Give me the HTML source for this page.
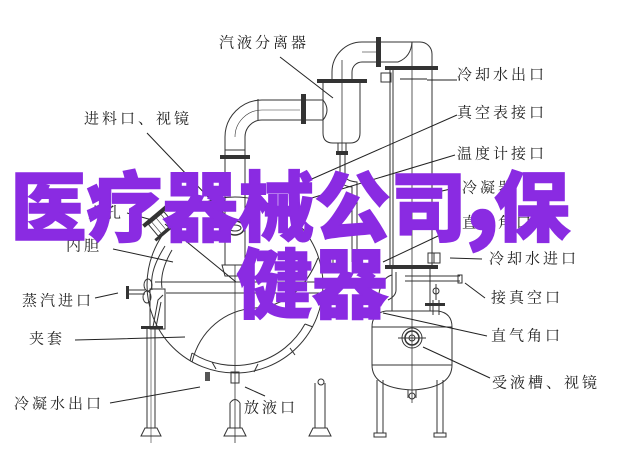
<!DOCTYPE html>
<html><head><meta charset="utf-8"><style>
html,body{margin:0;padding:0;background:#fff;}
body{width:626px;height:470px;overflow:hidden;position:relative;}
svg{position:absolute;left:0;top:0;}
.lb{font-family:"Liberation Serif","Noto Serif CJK SC","Noto Sans CJK SC",serif;font-size:15px;letter-spacing:3px;fill:#222;}
.big{font-family:"Noto Sans CJK SC","WenQuanYi Zen Hei",sans-serif;font-weight:900;font-size:76px;fill:#8a2be2;stroke:#8a2be2;stroke-width:1.5px;}
</style></head><body>
<svg width="626" height="470" viewBox="0 0 626 470" xmlns="http://www.w3.org/2000/svg">
<rect width="626" height="470" fill="#fff"/>
<g fill="none" stroke="#333" stroke-width="1">
<!-- feed pipe elbow -->
<path d="M225,265 V137 A37,37 0 0 1 262,100 H323"/>
<path d="M245,265 V137 A17,17 0 0 1 262,120 H323"/>
<path d="M235,137 A27,27 0 0 1 262,110 H300" stroke-width="0.6"/>
<path d="M258,99 V120 M225,150 H245"/>
<path d="M323,100 Q331,110 323,120"/>
<!-- separator -->
<path d="M323,83 V133 Q323,143 333,143 H350 Q360,143 360,133 V83"/>
<path d="M332,79 V72 A30,30 0 0 1 362,42"/>
<path d="M352,79 V72 A10,10 0 0 1 362,62"/>
<path d="M342,60 V152" stroke-width="0.8"/>
<!-- top pipe -->
<path d="M362,42 H420 A12,12 0 0 1 432,54 V66"/>
<path d="M362,62 H398"/>
<path d="M412,42 Q411,57 398,62"/>
<path d="M362,52 H376" stroke-width="0.6"/>
<!-- column -->
<path d="M390,70 V265 M393,70 V265 M432,66 V265"/>
<path d="M412,42 V403" stroke-width="0.8"/>
<rect x="381" y="73" width="10" height="9"/>
<!-- under separator -->
<path d="M338,143 V152 M346,143 V152"/>
<path d="M340,155 V178 Q340,186 352,187 V262"/>
<path d="M345,155 V176 Q346,181 357,182 V262"/>
<rect x="333" y="256" width="10" height="8"/>
<!-- receiver -->
<path d="M392,269 V311 M430,269 V311"/>
<path d="M372,327 Q372,313 386,311 H438 Q452,313 452,327 V365 Q452,388 412,390 Q372,388 372,365 Z"/>
<path d="M372,327 H452 M372,365 H452"/>
<circle cx="412" cy="338" r="10"/>
<circle cx="412" cy="338" r="7" stroke-width="1.5"/>
<circle cx="412" cy="338" r="3"/>
<path d="M398,338 H426"/>
<path d="M377,380 V433 M383,380 V433 M437,380 V433 M443,380 V433"/>
<rect x="374" y="433" width="12" height="4"/>
<rect x="434" y="433" width="12" height="4"/>
<path d="M408,390 V398 M416,390 V398"/>
<circle cx="412" cy="396" r="3"/>
<!-- receiver right fittings -->
<path d="M405,276 H460 M405,281 H460"/>
<rect x="458" y="275" width="4" height="8"/>
<circle cx="436" cy="291" r="3"/>
<path d="M436,284 V300 M433,300 V315 M439,300 V315"/>
<rect x="428" y="253" width="12" height="10"/>
<path d="M434,253 V263"/>
<path d="M392,275 Q380,278 378,300"/>
<path d="M396,272 V290 Q396,296 388,300"/>
<!-- big vessel -->
<circle cx="235" cy="285" r="88"/>
<path d="M192,353 A80,80 0 0 0 305,324"/>
<path d="M190,361 L192,353 M305,324 L313,327"/>
<path d="M212,362 L216,369 M258,364 L254,372 M290,348 L295,355"/>
<path d="M192,362 C200,330 225,310 255,308 C285,306 305,290 318,258"/>
<path d="M155,282 H322 M166,293 H322"/>
<path d="M129,290 H145 M129,294 H145"/>
<ellipse cx="148" cy="285" rx="4" ry="6"/>
<ellipse cx="147" cy="297" rx="4" ry="6"/>
<rect x="150" y="289" width="15" height="40"/>
<path d="M153,327 L158,300 L163,295 M156,327 L161,302"/>
<path d="M165,246 C155,262 150,275 152,290"/>
<path d="M172,250 C165,262 160,275 162,288"/>
<!-- legs -->
<path d="M147,329 V428 M155,329 V428"/>
<path d="M151,329 V443" stroke-width="0.6"/>
<path d="M141,436 L145,428 H157 L161,436 Z"/>
<path d="M230,403 V428 M240,403 V428 M230,403 Q235,396 240,403"/>
<path d="M224,436 L228,428 H242 L246,436 Z"/>
<path d="M315,383 V428 M325,383 V428"/>
<circle cx="321" cy="382" r="3"/>
<path d="M309,436 L313,428 H327 L331,436 Z"/>
<path d="M235,265 V443" stroke-width="0.8"/>
<rect x="231" y="372" width="8" height="11"/>
<path d="M222,265 H248 L245,276 H225 Z"/>
<ellipse cx="235" cy="228" rx="9" ry="7" stroke-width="1.5"/>
<ellipse cx="235" cy="228" rx="6" ry="3"/>
<g transform="translate(162,225) rotate(-40)">
<rect x="-10" y="-9" width="20" height="15"/>
<path d="M-6,-9 V6 M0,-9 V6 M6,-9 V6" stroke-width="0.6"/>
</g>
<!-- leaders -->
<g stroke="#222">
<path d="M280,57 L333,98"/>
<path d="M147,133 L232,222"/>
<path d="M400,79 H427 M427,80 H457"/>
<path d="M457,115 L280,193"/>
<path d="M455,155 L305,200"/>
<path d="M455,188 L420,196"/>
<path d="M455,228 L383,262"/>
<path d="M450,258 L482,259"/>
<path d="M465,283 L485,298"/>
<path d="M383,313 L487,336"/>
<path d="M423,347 L490,378"/>
<path d="M127,213 L152,220"/>
<path d="M113,249 L173,262"/>
<path d="M95,298 L118,293"/>
<path d="M75,340 L115,339 L185,337"/>
<path d="M110,403 L200,387"/>
<path d="M245,387 L265,396"/>
<path d="M165,224 L236,282"/>
</g>
</g>
<!-- filled heavy parts -->
<g fill="#333">
<rect x="301" y="94" width="5" height="30"/>
<rect x="220" y="155" width="30" height="4"/>
<rect x="317" y="79" width="50" height="4"/>
<rect x="376" y="37" width="5" height="30"/>
<rect x="385" y="66" width="53" height="4"/>
<rect x="336" y="151" width="12" height="4"/>
<rect x="385" y="265" width="53" height="4"/>
<rect x="425" y="303" width="20" height="3"/>
<rect x="126" y="286" width="3" height="13"/>
<rect x="141" y="326" width="22" height="3"/>
<rect x="205" y="372" width="5" height="9" fill="#555"/>
<g transform="translate(162,225) rotate(-40)">
<rect x="-15" y="-13" width="30" height="4"/>
<rect x="-15" y="6" width="30" height="3"/>
</g>
</g>
<!-- labels -->
<text class="lb" x="219" y="47.5">汽液分离器</text>
<text class="lb" x="84" y="123.5">进料口、视镜</text>
<text class="lb" x="457" y="79.5">冷却水出口</text>
<text class="lb" x="457" y="117.5">真空表接口</text>
<text class="lb" x="457" y="158.5">温度计接口</text>
<text class="lb" x="462" y="192.5">冷凝器</text>
<text class="lb" x="462" y="227.5">直气角口</text>
<text class="lb" x="489" y="263.5">冷却水进口</text>
<text class="lb" x="491" y="302.5">接真空口</text>
<text class="lb" x="491" y="340.5">直气角口</text>
<text class="lb" x="492" y="387.5">受液槽、视镜</text>
<text class="lb" x="88" y="217.5">人孔</text>
<text class="lb" x="66" y="250.5">内胆</text>
<text class="lb" x="22" y="305.5">蒸汽进口</text>
<text class="lb" x="29" y="343.5">夹套</text>
<text class="lb" x="14" y="408.5">冷凝水出口</text>
<text class="lb" x="244" y="412.5">放液口</text>
<!-- big overlay text -->
<g class="big" text-anchor="middle">
<text x="48.5" y="235">医</text>
<text x="124.5" y="235">疗</text>
<text x="200.5" y="235">器</text>
<text x="276.5" y="235">械</text>
<text x="352.5" y="235">公</text>
<text x="428.5" y="235">司</text>
<text x="482" y="230" font-size="100">,</text>
<text x="532" y="235">保</text>
<text x="274.5" y="312">健</text>
<text x="350" y="312">器</text>
</g>
</svg>
</body></html>
